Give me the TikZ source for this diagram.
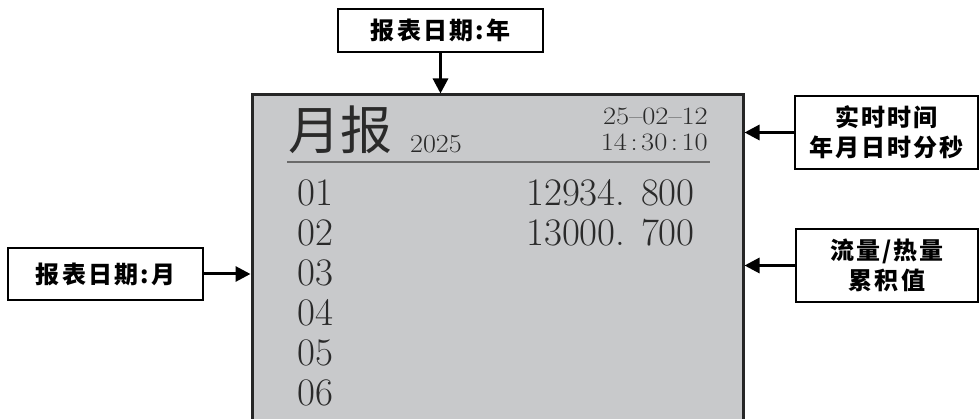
\documentclass[tikz,border=0pt]{standalone}
\usepackage{fontspec}
\usepackage{graphicx}
\newfontfamily\cjk{Noto Sans CJK SC}
\newfontfamily\cjkl{Noto Sans CJK SC}[LetterSpace=9]
\usetikzlibrary{arrows.meta}
\definecolor{screengray}{HTML}{C8C9CB}
\definecolor{screentext}{HTML}{2A2A2A}
\definecolor{ruleline}{HTML}{6A6A6A}
\tikzset{
  labelbox/.style={draw=black, line width=1.5pt, fill=white, inner sep=0pt, align=center,
    font=\cjkl\bfseries\fontsize{24}{30}\selectfont},
  screenbox/.style={draw=black!85, line width=3pt, fill=screengray, inner sep=0pt,
    minimum width=491pt, minimum height=345pt},
  arr/.style={line width=3pt, -{Triangle[length=15pt,width=15pt]}},
  rowtxt/.style={text=screentext, inner sep=0pt, font=\fontsize{39}{39}\selectfont},
  smalltxt/.style={text=screentext, inner sep=0pt, font=\fontsize{25}{25}\selectfont},
}
\newcommand{\wcol}{\makebox[0.5em]{:}}
\newcommand{\wide}[1]{\scalebox{1.14}[1]{#1}}
\begin{document}
\begin{tikzpicture}[x=1pt,y=-1pt]
\clip (0,0) rectangle (980,419);
\fill[white] (0,0) rectangle (980,419);
% main screen
\node[screenbox] (screen) at (497.5,267.5) {};
% header
\node[text=screentext, inner sep=0pt, anchor=base west, font=\cjk\fontsize{52}{52}\selectfont] (title) at (288,150) {月报};
\node[text=screentext, inner sep=0pt, anchor=base west, font=\fontsize{26}{26}\selectfont] (year) at (410,153) {\scalebox{1.08}[1]{2025}};
\node[smalltxt, anchor=base east] (date) at (708,125) {\wide{25--02--12}};
\node[smalltxt, anchor=base east] (time) at (708,151) {\wide{14\wcol30\wcol10}};
\coordinate (ruleL) at (287,162);
\coordinate (ruleR) at (710,162);
\draw[ruleline, line width=1.5pt] (ruleL) -- (ruleR);
% rows
\node[rowtxt, anchor=base west] (r1) at (297,206) {01};
\node[rowtxt, anchor=base west] (r2) at (297,246) {02};
\node[rowtxt, anchor=base west] (r3) at (297,286) {03};
\node[rowtxt, anchor=base west] (r4) at (297,326) {04};
\node[rowtxt, anchor=base west] (r5) at (297,366) {05};
\node[rowtxt, anchor=base west] (r6) at (297,406) {06};
\node[rowtxt, anchor=base east] (v1) at (695,206) {12934.\kern0.4em800};
\node[rowtxt, anchor=base east] (v2) at (695,246) {13000.\kern0.4em700};
% label boxes
\node[labelbox, minimum width=205pt, minimum height=43pt] (topbox) at (440.5,30.5) {报表日期:年};
\node[labelbox, minimum width=195pt, minimum height=52pt] (leftbox) at (105.5,274) {报表日期:月};
\node[labelbox, minimum width=183pt, minimum height=73pt] (rtbox) at (886.5,132.5) {实时时间\\年月日时分秒};
\node[labelbox, minimum width=182pt, minimum height=73pt] (flowbox) at (887,265.5) {流量/热量\\累积值};
% arrows
\draw[arr] (topbox.south) -- (topbox.south |- screen.north);
\draw[arr] (leftbox.east) -- (leftbox.east -| screen.west);
\draw[arr] (rtbox.west) -- (rtbox.west -| screen.east);
\draw[arr] (flowbox.west) -- (flowbox.west -| screen.east);
\end{tikzpicture}
\end{document}
